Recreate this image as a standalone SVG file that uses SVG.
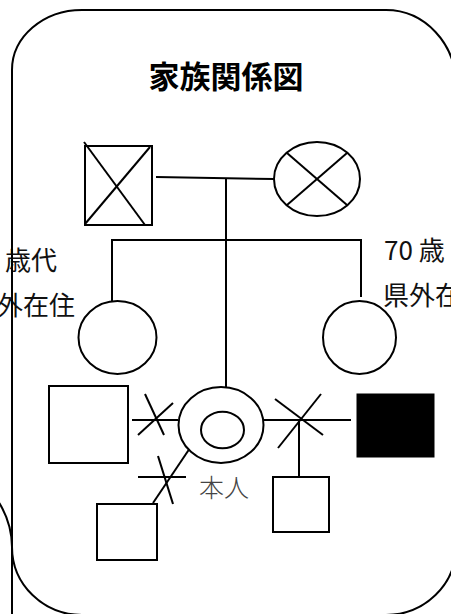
<svg xmlns="http://www.w3.org/2000/svg" width="451" height="614" viewBox="0 0 451 614">
  <style>
    .ln { fill: none; stroke: #000; stroke-width: 2; }
    .sym { fill: #fff; stroke: #000; stroke-width: 2; }
    .lbl { font-family: "Noto Sans CJK JP", "Noto Sans", sans-serif; font-size: 26px; fill: #111; }
    .title { font-family: "Noto Sans CJK JP", "Noto Sans", sans-serif; font-size: 31px; font-weight: bold; fill: #000; }
    .self { font-family: "Noto Sans CJK JP", sans-serif; font-size: 25px; font-weight: 300; fill: #444; }
  </style>
  <rect width="451" height="614" fill="#fff"/>

  <g id="left-frame">
    <path class="ln" d="M -2,501 A 86,86 0 0 1 12,547 L 12,616"/>
    <text class="lbl" x="5" y="270">歳代</text>
    <text class="lbl" x="-3" y="315">外在住</text>
  </g>

  <g id="frame">
    <path class="ln" d="M 82,10 L 386,10 A 70,75 0 0 1 456,85 L 456,547 A 70,68 0 0 1 386,615 L 82,615 A 70,68 0 0 1 12,547 L 12,70 A 70,60 0 0 1 82,10 Z"/>
  </g>

  <g id="title">
    <text class="title" x="226" y="88" text-anchor="middle">家族関係図</text>
  </g>

  <g id="right-label">
    <text class="lbl" x="384" y="260">70 歳</text>
    <text class="lbl" x="383" y="305">県外在</text>
  </g>

  <g id="connectors">
    <line class="ln" x1="156" y1="177" x2="274" y2="179"/>
    <line class="ln" x1="226" y1="178" x2="226" y2="387"/>
    <polyline class="ln" points="112,301 112,240 361,240 361,297"/>
    <line class="ln" x1="132" y1="420" x2="178" y2="420"/>
    <line class="ln" x1="145" y1="394" x2="164" y2="435"/>
    <line class="ln" x1="173" y1="403" x2="138" y2="435"/>
    <line class="ln" x1="263" y1="420" x2="351" y2="420"/>
    <line class="ln" x1="275" y1="399" x2="323" y2="435"/>
    <line class="ln" x1="321" y1="394" x2="278" y2="448"/>
    <line class="ln" x1="299" y1="420" x2="299" y2="477"/>
    <line class="ln" x1="190" y1="448" x2="153" y2="503"/>
    <line class="ln" x1="138" y1="477" x2="186" y2="477"/>
    <line class="ln" x1="158" y1="456" x2="173" y2="504"/>
  </g>

  <g id="father">
    <rect class="sym" x="85" y="146" width="67" height="79"/>
    <line class="ln" x1="84" y1="142" x2="145" y2="225"/>
    <line class="ln" x1="150" y1="147" x2="85" y2="224"/>
  </g>

  <g id="mother">
    <ellipse class="sym" cx="317" cy="179" rx="43" ry="37"/>
    <line class="ln" x1="287" y1="153" x2="347" y2="205"/>
    <line class="ln" x1="347" y1="153" x2="287" y2="205"/>
  </g>

  <g id="sister-left">
    <ellipse class="sym" cx="117.5" cy="337.5" rx="39" ry="36.5"/>
  </g>

  <g id="sister-right">
    <ellipse class="sym" cx="359.5" cy="337.5" rx="36.5" ry="36.5"/>
  </g>

  <g id="self">
    <ellipse class="sym" cx="221" cy="425" rx="42.5" ry="38"/>
    <ellipse class="sym" cx="222.5" cy="430" rx="21.5" ry="18.3"/>
    <text class="self" x="199" y="497">本人</text>
  </g>

  <g id="ex-husband-left">
    <rect class="sym" x="49" y="386" width="79" height="77"/>
  </g>

  <g id="ex-husband-right">
    <rect x="357" y="394" width="77" height="63" fill="#000" stroke="#000" stroke-width="1"/>
  </g>

  <g id="child-left">
    <rect class="sym" x="97" y="504" width="60" height="56"/>
  </g>

  <g id="child-right">
    <rect class="sym" x="273" y="477" width="56" height="55"/>
  </g>
</svg>
